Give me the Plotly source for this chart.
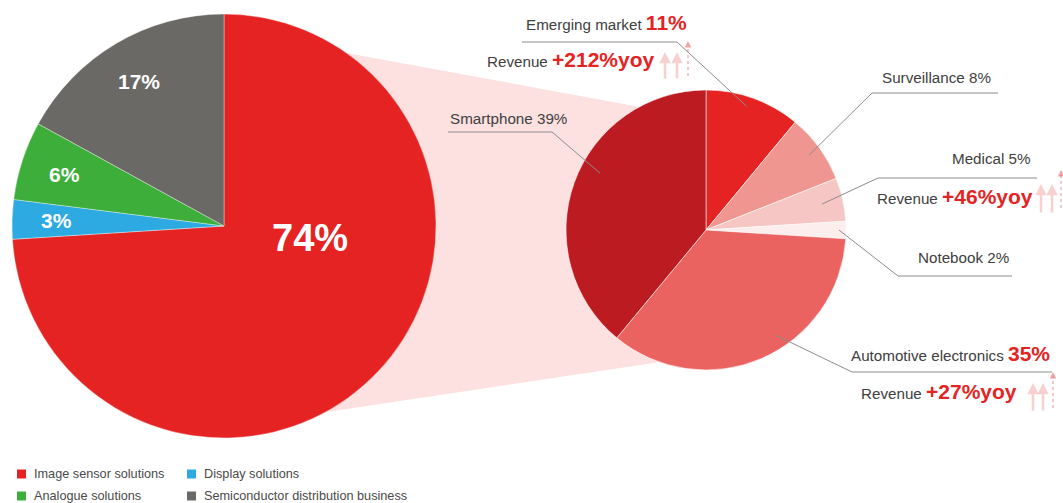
import math
import plotly.graph_objects as go

W, H = 1063, 503
FONT = "Liberation Sans, Arial, Helvetica, sans-serif"
RED = "#E52323"
TXT = "#404040"

# ---------------- data ----------------
seg_labels = ["Image sensor solutions", "Display solutions", "Analogue solutions",
              "Semiconductor distribution business"]
seg_values = [74, 3, 6, 17]
seg_colors = ["#E52323", "#2DAAE1", "#3DAE3A", "#6B6965"]

app_labels = ["Emerging market", "Surveillance", "Medical", "Notebook",
              "Automotive electronics", "Smartphone"]
app_values = [11, 8, 5, 2, 35, 39]
app_colors = ["#E52323", "#F09690", "#F5C6C3", "#FCEEEC", "#EA6360", "#BC1B22"]
app_bold = [True, False, False, False, True, False]

rev_labels = ["Emerging market", "Medical", "Automotive electronics"]
rev_growth = [212, 46, 27]

# ---------------- geometry (pixels) ----------------
BIG = dict(cx=224, cy=226, r=212)
SMALL = dict(cx=706, cy=230, r=140)


def px(x):
    return x / W


def py(y):
    return 1 - y / H


def domain(c):
    return dict(x=[px(c["cx"] - c["r"]), px(c["cx"] + c["r"])],
                y=[py(c["cy"] + c["r"]), py(c["cy"] - c["r"])])


def angle_of(values, i, t=0.5):
    tot = float(sum(values))
    return (sum(values[:i]) + t * values[i]) / tot * 360.0


def polar(c, ang, frac):
    a = math.radians(ang)
    return c["cx"] + frac * c["r"] * math.sin(a), c["cy"] - frac * c["r"] * math.cos(a)


fig = go.Figure()

fig.add_trace(go.Pie(
    labels=seg_labels, values=seg_values, sort=False, direction="clockwise",
    marker=dict(colors=seg_colors, line=dict(color="rgba(255,255,255,0.6)", width=0.6)),
    textinfo="none", hoverinfo="label+percent", showlegend=False,
    domain=domain(BIG),
))

fig.add_trace(go.Pie(
    labels=app_labels, values=app_values, sort=False, direction="clockwise",
    marker=dict(colors=app_colors, line=dict(color="rgba(255,255,255,0.7)", width=0.8)),
    textinfo="none", hoverinfo="label+percent", showlegend=False,
    domain=domain(SMALL),
))

shapes = []
annotations = []

# pink connector band behind the pies
band = [(300, 44.4), (700, 118), (700, 356), (300, 416)]
path = "M " + " L ".join(f"{px(x):.5f},{py(y):.5f}" for x, y in band) + " Z"
shapes.append(dict(type="path", path=path, xref="paper", yref="paper",
                   fillcolor="#FCE1E0", line=dict(width=0), layer="below"))

# big pie percentage labels
for i, v in enumerate(seg_values):
    if i == 0:
        x, y = polar(BIG, 98, 0.41)
        size = 38
    else:
        x, y = polar(BIG, angle_of(seg_values, i), 0.79)
        size = 21
    annotations.append(dict(x=px(x), y=py(y), xref="paper", yref="paper",
                            text=f"<b>{v}%</b>", showarrow=False,
                            font=dict(family=FONT, size=size, color="white"),
                            xanchor="center", yanchor="middle"))

# small pie labels + leader lines
label_layout = {
    "Emerging market": dict(tx=689, ty=22, anchor="right", elbow=(677, 42), hend=522, t=0.46, f=0.93),
    "Surveillance": dict(tx=993, ty=77, anchor="right", elbow=(872, 93), hend=998, t=0.5, f=0.91),
    "Medical": dict(tx=1033, ty=158, anchor="right", elbow=(878, 178), hend=1037, t=0.5, f=0.85),
    "Notebook": dict(tx=1011, ty=257, anchor="right", elbow=(898, 276), hend=1012, t=0.5, f=0.95),
    "Automotive electronics": dict(tx=1052, ty=353, anchor="right", elbow=(852, 372), hend=1052, t=0.42, f=0.9),
    "Smartphone": dict(tx=448, ty=118, anchor="left", elbow=(552, 132), hend=448, t=0.56, f=0.86),
}
LINE = dict(color="#8c8c8c", width=1)
for i, (name, v) in enumerate(zip(app_labels, app_values)):
    L = label_layout[name]
    if app_bold[i]:
        text = f"{name} <b><span style='color:{RED};font-size:21px'>{v}%</span></b>"
    else:
        text = f"{name} {v}%"
    annotations.append(dict(x=px(L["tx"]), y=py(L["ty"]), xref="paper", yref="paper",
                            text=text, showarrow=False, xanchor=L["anchor"], yanchor="middle",
                            font=dict(family=FONT, size=15.2, color=TXT)))
    ax_, ay_ = polar(SMALL, angle_of(app_values, i, L["t"]), L["f"])
    ex, ey = L["elbow"]
    shapes.append(dict(type="line", xref="paper", yref="paper",
                       x0=px(ax_), y0=py(ay_), x1=px(ex), y1=py(ey), line=LINE))
    shapes.append(dict(type="line", xref="paper", yref="paper",
                       x0=px(ex), y0=py(ey), x1=px(L["hend"]), y1=py(ey), line=LINE))

# revenue growth labels with decorative arrows
rev_layout = {
    "Emerging market": dict(tx=656, ty=60, arrows=[665, 677], dashed=688, ybot=80, ytop=52, dbot=76, dtop=41),
    "Medical": dict(tx=1035, ty=196, arrows=[1041, 1052], dashed=1061, ybot=214, ytop=184, dbot=208, dtop=170),
    "Automotive electronics": dict(tx=1019, ty=391, arrows=[1033, 1043], dashed=1053, ybot=412, ytop=383, dbot=408, dtop=372),
}
ARC = "rgba(232,90,90,0.28)"
for name, g in zip(rev_labels, rev_growth):
    R = rev_layout[name]
    annotations.append(dict(
        x=px(R["tx"]), y=py(R["ty"]), xref="paper", yref="paper",
        text=f"Revenue <b><span style='color:{RED};font-size:21px'>+{g}%yoy</span></b>",
        showarrow=False, xanchor="right", yanchor="middle",
        font=dict(family=FONT, size=15.2, color=TXT)))
    for axx in R["arrows"]:
        annotations.append(dict(x=px(axx), y=py(R["ytop"]), xref="paper", yref="paper",
                                text="", showarrow=True, ax=0, ay=R["ybot"] - R["ytop"],
                                arrowhead=2, arrowsize=0.9, arrowwidth=2.5, arrowcolor=ARC))
    shapes.append(dict(type="line", xref="paper", yref="paper",
                       x0=px(R["dashed"]), x1=px(R["dashed"]),
                       y0=py(R["dbot"]), y1=py(R["dtop"] + 5),
                       line=dict(color="rgba(232,90,90,0.5)", width=1.3, dash="3px,3px")))
    annotations.append(dict(x=px(R["dashed"]), y=py(R["dtop"]), xref="paper", yref="paper",
                            text="", showarrow=True, ax=0, ay=7,
                            arrowhead=2, arrowsize=1, arrowwidth=1.3,
                            arrowcolor="rgba(232,90,90,0.55)"))

# legend (2 x 2 grid)
leg_cols = [17, 187]
leg_rows = [474, 496]
for i, (name, col) in enumerate(zip(seg_labels, seg_colors)):
    x0 = leg_cols[i % 2]
    yc = leg_rows[i // 2]
    shapes.append(dict(type="rect", xref="paper", yref="paper",
                       x0=px(x0), x1=px(x0 + 9), y0=py(yc + 4.5), y1=py(yc - 4.5),
                       fillcolor=col, line=dict(width=0)))
    annotations.append(dict(x=px(x0 + 15), y=py(yc), xref="paper", yref="paper",
                            text=name, showarrow=False, xanchor="left", yanchor="middle",
                            font=dict(family=FONT, size=12.7, color="#4a4a4a")))

fig.update_layout(
    width=W, height=H, margin=dict(l=0, r=0, t=0, b=0),
    paper_bgcolor="white", plot_bgcolor="white",
    shapes=shapes, annotations=annotations, showlegend=False,
    font=dict(family=FONT),
)

fig.write_html("out.html")
